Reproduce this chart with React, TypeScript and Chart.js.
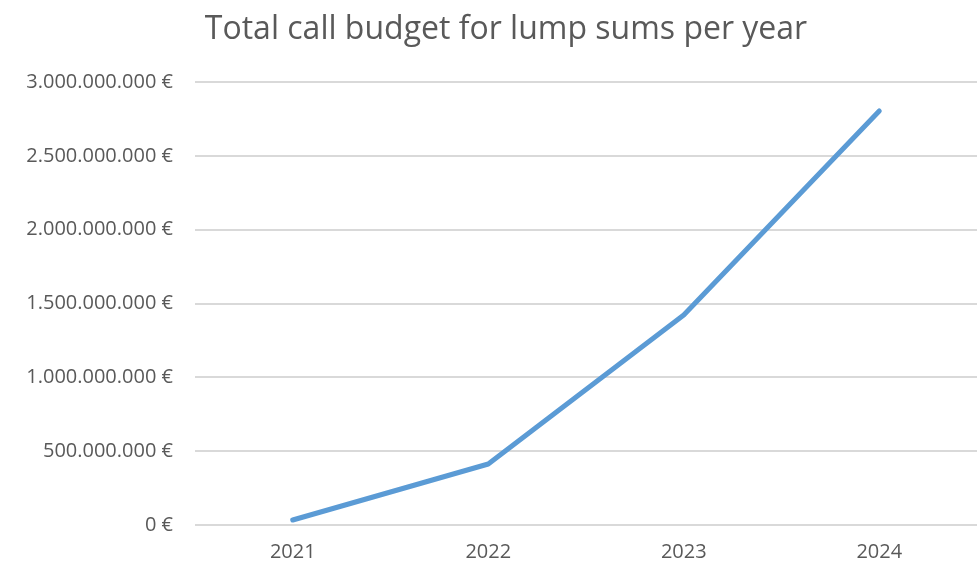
import React, { useEffect, useRef } from "react";
import { Chart, registerables } from "chart.js";

Chart.register(...registerables);

const TITLE = "Total call budget for lump sums per year";
const years = ["2021", "2022", "2023", "2024"];
const budget = [34000000, 413000000, 1422000000, 2804000000];
const FONT = "'Open Sans', sans-serif";
const TEXT = "#595959";

function formatEuro(v: number): string {
  const s = Math.round(v).toString().replace(/\B(?=(\d{3})+(?!\d))/g, ".");
  return s + " €";
}

const titlePlugin = {
  id: "customTitle",
  afterDraw(chart: any) {
    const ctx = chart.ctx;
    ctx.save();
    ctx.font = `32px ${FONT}`;
    ctx.fillStyle = TEXT;
    ctx.textAlign = "center";
    ctx.textBaseline = "alphabetic";
    ctx.fillText(TITLE, 506, 39);
    ctx.restore();
  },
};

export default function App() {
  const ref = useRef<HTMLCanvasElement>(null);
  useEffect(() => {
    document.body.style.margin = "0";
    const chart = new Chart(ref.current!, {
      type: "line",
      data: {
        labels: years,
        datasets: [
          {
            data: budget,
            borderColor: "#5b9bd5",
            borderWidth: 5,
            borderCapStyle: "round",
            borderJoinStyle: "round",
            pointRadius: 0,
            tension: 0,
            fill: false,
          },
        ],
      },
      options: {
        animation: false,
        responsive: false,
        layout: { padding: { top: 82, right: 0, bottom: 0, left: 0 } },
        plugins: { legend: { display: false }, title: { display: false }, tooltip: { enabled: false } },
        scales: {
          x: {
            offset: true,
            grid: { display: false, drawTicks: false },
            border: { display: false },
            ticks: { color: TEXT, font: { family: FONT, size: 20 }, padding: 15 },
            afterFit(scale: any) {
              scale.height = 41;
            },
          },
          y: {
            min: 0,
            max: 3000000000,
            ticks: {
              stepSize: 500000000,
              color: TEXT,
              font: { family: FONT, size: 20 },
              padding: 22,
              callback: (v: any) => formatEuro(Number(v)),
            },
            grid: { color: "#d9d9d9", lineWidth: 2, drawTicks: false },
            border: { display: false },
            afterFit(scale: any) {
              scale.width = 195;
            },
          },
        },
      },
      plugins: [titlePlugin],
    });
    return () => chart.destroy();
  }, []);
  return <canvas ref={ref} width={977} height={566} style={{ display: "block" }} />;
}
